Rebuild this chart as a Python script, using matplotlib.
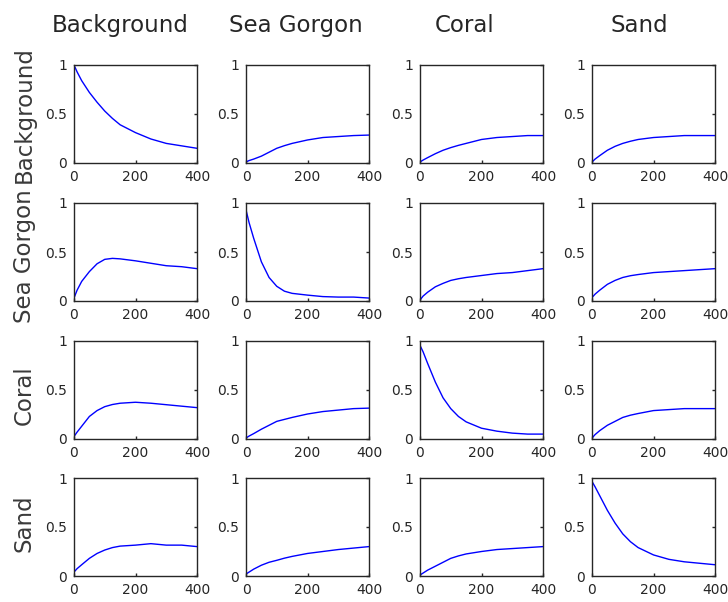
import matplotlib
matplotlib.use('Agg')
import matplotlib.pyplot as plt
import numpy as np

plt.rcParams['font.family'] = 'DejaVu Sans'

states = ['Background', 'Sea Gorgon', 'Coral', 'Sand']
t = [0, 10, 25, 50, 75, 100, 125, 150, 200, 250, 300, 350, 400]

# row = from state, column = to state
bg_bg = [1.0, 0.93, 0.84, 0.72, 0.62, 0.53, 0.455, 0.39, 0.31, 0.245, 0.2, 0.175, 0.15]
bg_sg = [0.01, 0.025, 0.04, 0.07, 0.11, 0.15, 0.177, 0.2, 0.235, 0.26, 0.27, 0.28, 0.285]
bg_co = [0.01, 0.03, 0.055, 0.095, 0.13, 0.157, 0.18, 0.2, 0.24, 0.26, 0.27, 0.28, 0.28]
bg_sa = [0.01, 0.04, 0.075, 0.13, 0.17, 0.2, 0.222, 0.24, 0.26, 0.27, 0.28, 0.28, 0.28]

sg_bg = [0.03, 0.11, 0.2, 0.3, 0.38, 0.425, 0.435, 0.43, 0.41, 0.385, 0.36, 0.35, 0.33]
sg_sg = [0.93, 0.8, 0.64, 0.4, 0.24, 0.15, 0.1, 0.078, 0.06, 0.045, 0.04, 0.04, 0.03]
sg_co = [0.01, 0.05, 0.09, 0.145, 0.18, 0.21, 0.227, 0.24, 0.26, 0.28, 0.29, 0.31, 0.33]
sg_sa = [0.035, 0.07, 0.11, 0.17, 0.21, 0.24, 0.258, 0.27, 0.29, 0.3, 0.31, 0.32, 0.33]

co_bg = [0.025, 0.07, 0.13, 0.23, 0.29, 0.33, 0.352, 0.365, 0.375, 0.365, 0.35, 0.335, 0.32]
co_sg = [0.01, 0.03, 0.055, 0.1, 0.14, 0.18, 0.2, 0.22, 0.255, 0.28, 0.295, 0.31, 0.315]
co_co = [0.955, 0.89, 0.77, 0.58, 0.42, 0.31, 0.23, 0.175, 0.11, 0.08, 0.06, 0.05, 0.05]
co_sa = [0.01, 0.045, 0.085, 0.14, 0.18, 0.22, 0.243, 0.26, 0.29, 0.3, 0.31, 0.31, 0.31]

sa_bg = [0.04, 0.075, 0.115, 0.18, 0.23, 0.265, 0.29, 0.305, 0.315, 0.33, 0.315, 0.315, 0.30]
sa_sg = [0.02, 0.04, 0.07, 0.11, 0.14, 0.16, 0.182, 0.2, 0.23, 0.25, 0.27, 0.285, 0.30]
sa_co = [0.01, 0.03, 0.06, 0.1, 0.14, 0.18, 0.205, 0.225, 0.25, 0.27, 0.28, 0.29, 0.30]
sa_sa = [0.965, 0.91, 0.82, 0.67, 0.54, 0.43, 0.35, 0.29, 0.215, 0.17, 0.145, 0.13, 0.115]

curves = [[bg_bg, bg_sg, bg_co, bg_sa],
          [sg_bg, sg_sg, sg_co, sg_sa],
          [co_bg, co_sg, co_co, co_sa],
          [sa_bg, sa_sg, sa_co, sa_sa]]

W, H = 728, 602
fig = plt.figure(figsize=(W / 100, H / 100), dpi=100)

col_left = [74, 246, 420, 592]
row_top = [65, 203, 341, 478]
aw, ah = 123, 98
txt = '#262626'

for i in range(4):
    for j in range(4):
        ax = fig.add_axes([col_left[j] / W, 1 - (row_top[i] + ah) / H, aw / W, ah / H])
        ax.plot(t, curves[i][j], color='#0000ff', lw=1)
        ax.set_xlim(0, 400)
        ax.set_ylim(0, 1)
        ax.set_xticks([0, 200, 400])
        ax.set_xticklabels(['0', '200', '400'])
        ax.set_yticks([0, 0.5, 1])
        ax.set_yticklabels(['0', '0.5', '1'])
        ax.tick_params(direction='in', length=2.5, width=1, left=False, right=True,
                       labelsize=10, labelcolor=txt, color=txt, pad=5)
        for s in ax.spines.values():
            s.set_color(txt)
            s.set_linewidth(1)

# column titles
title_x = [120, 296, 465, 639]
for j in range(4):
    fig.text(title_x[j] / W, 1 - 32 / H, states[j], ha='center', va='baseline',
             fontsize=16.5, color=txt)

# row labels
label_y = [115, 256, 395, 523]
for i in range(4):
    fig.text(31 / W, 1 - label_y[i] / H, states[i], ha='center', va='baseline',
             rotation=90, rotation_mode='anchor', fontsize=16.5, color='#3a3a3a')

fig.savefig('out.png', dpi=100)
